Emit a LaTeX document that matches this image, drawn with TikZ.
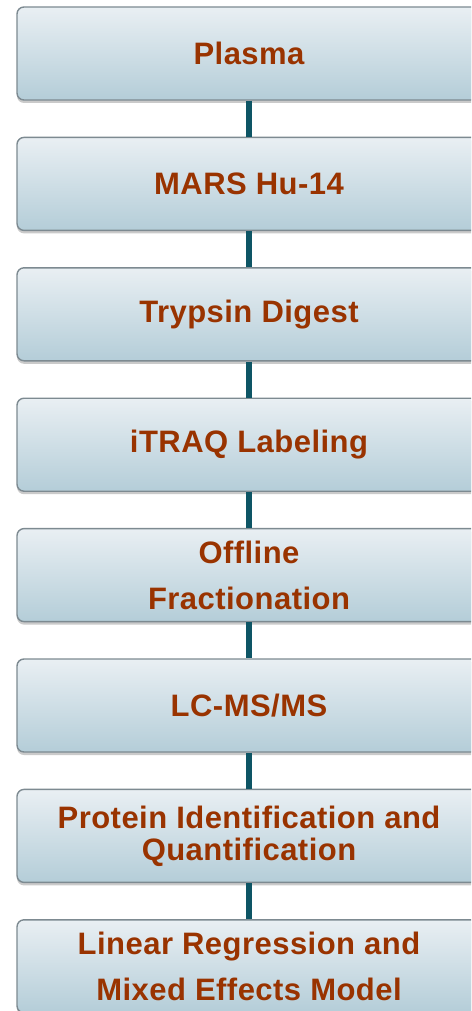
\documentclass[tikz,border=0pt]{standalone}
\usepackage{fontspec}
\setmainfont{Liberation Sans}[LetterSpace=1.5]
\usetikzlibrary{shadows}
\definecolor{txt}{RGB}{153,51,0}
\definecolor{boxtop}{RGB}{233,239,243}
\definecolor{boxbot}{RGB}{180,205,216}
\definecolor{boxline}{RGB}{125,138,145}
\definecolor{conn}{RGB}{14,85,101}
\begin{document}
\begin{tikzpicture}[x=1pt,y=-1pt,
  stepbox/.style={rectangle, rounded corners=7pt, draw=boxline, line width=1.4pt,
    top color=boxtop, bottom color=boxbot, minimum width=464pt, minimum height=93pt,
    inner sep=0pt, align=center, text=txt,
    font=\fontsize{31}{32}\selectfont\bfseries,
    drop shadow={shadow xshift=0pt, shadow yshift=-3pt, opacity=0.35, fill=black!60}},
  link/.style={draw=conn, line width=6pt}]
\clip (0,0) rectangle (471,1011);
\node[stepbox] (b1) at (249,53.5) {Plasma};
\node[stepbox] (b2) at (249,183.9) {MARS Hu-14};
\node[stepbox] (b3) at (249,314.3) {Trypsin Digest};
\node[stepbox] (b4) at (249,444.7) {iTRAQ Labeling};
\node[stepbox] (b5) at (249,575.1) {Offline\\[14pt]Fractionation};
\node[stepbox] (b6) at (249,705.5) {LC-MS/MS};
\node[stepbox] (b7) at (249,835.9) {Protein Identification and\\Quantification};
\node[stepbox] (b8) at (249,966.3) {Linear Regression and\\[14pt]Mixed Effects Model};
\draw[link] (b1.south) -- (b2.north);
\draw[link] (b2.south) -- (b3.north);
\draw[link] (b3.south) -- (b4.north);
\draw[link] (b4.south) -- (b5.north);
\draw[link] (b5.south) -- (b6.north);
\draw[link] (b6.south) -- (b7.north);
\draw[link] (b7.south) -- (b8.north);
\end{tikzpicture}
\end{document}
